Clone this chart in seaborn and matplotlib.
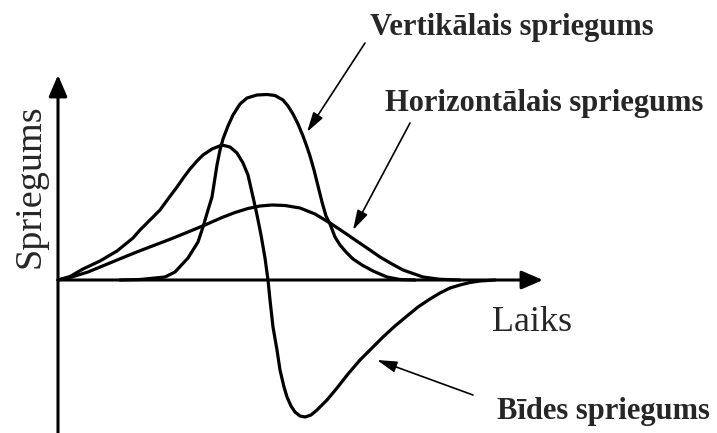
import matplotlib
matplotlib.use("Agg")
import matplotlib.pyplot as plt
import seaborn as sns

# Time axis (arbitrary units) and stress values for the three curves
vert_t = [6.2, 8.2, 9.7, 10.7, 11.7, 13.0, 14.0, 14.5, 15.0, 15.4, 15.9, 16.2, 16.5, 17.0,
          17.5, 18.2, 18.9, 19.9, 20.9, 21.7, 22.5, 23.0, 23.5, 24.0, 24.5, 24.9, 25.2,
          25.6, 26.0, 26.4, 26.8, 27.2, 27.7, 28.2, 28.8, 29.5, 30.4, 31.5, 32.9, 34.2, 35.7]
vert_s = [0.0, 0.05, 0.2, 0.3, 0.8, 2.2, 3.8, 5.3, 7.0, 8.3, 11.5, 13.0, 14.1, 15.4,
          16.5, 17.6, 18.2, 18.5, 18.55, 18.45, 18.0, 17.4, 16.6, 15.6, 14.4, 13.3, 12.4,
          11.0, 9.4, 7.8, 6.4, 5.6, 4.3, 3.5, 2.8, 2.1, 1.5, 0.9, 0.3, 0.05, 0.0]

horiz_t = [0.0, 1.2, 3.0, 4.7, 6.4, 8.0, 9.7, 11.4, 13.0, 14.7, 16.4, 17.7, 19.0, 20.2,
           21.4, 22.7, 24.2, 25.7, 27.2, 28.7, 29.5, 30.9, 32.2, 33.4, 34.5, 36.5, 38.2, 40.2]
horiz_s = [0.0, 0.25, 0.8, 1.5, 2.2, 2.85, 3.5, 4.15, 4.8, 5.5, 6.25, 6.75, 7.15, 7.4,
           7.5, 7.45, 7.2, 6.6, 5.7, 4.7, 4.15, 3.2, 2.3, 1.6, 1.0, 0.3, 0.07, 0.0]

shear_t = [0.0, 1.2, 2.5, 4.2, 5.9, 7.5, 8.2, 9.4, 10.2, 11.0, 11.9, 12.6, 13.2, 13.9,
           14.5, 15.4, 16.4, 17.2, 17.9, 18.5, 19.0, 19.5, 19.9, 20.3, 20.7, 21.0, 21.2,
           21.5, 21.9, 22.2, 22.6, 22.9, 23.3, 23.7, 24.2, 24.7, 25.3, 25.9, 26.9, 27.9,
           29.0, 30.2, 31.4, 32.5, 33.7, 34.9, 36.0, 37.2, 38.2, 39.2, 40.2, 41.2, 42.2, 43.7]
shear_s = [0.0, 0.35, 1.1, 1.9, 2.9, 4.2, 5.0, 6.2, 7.0, 8.1, 9.3, 10.3, 11.1, 11.9,
           12.5, 13.1, 13.5, 13.3, 12.7, 11.7, 10.5, 8.3, 6.5, 4.5, 2.2, 0.0, -2.0,
           -4.7, -7.0, -9.0, -10.7, -11.7, -12.6, -13.2, -13.6, -13.7, -13.5, -13.0, -12.0, -10.8,
           -9.4, -8.0, -6.8, -5.7, -4.6, -3.6, -2.7, -1.9, -1.3, -0.8, -0.5, -0.25, -0.1, 0.0]

label_vert = "Vertikālais spriegums"
label_horiz = "Horizontālais spriegums"
label_shear = "Bīdes spriegums"
x_label = "Laiks"
y_label = "Spriegums"

sns.set_style("white")
plt.rcParams["font.family"] = ["Liberation Serif", "DejaVu Serif"]

W, H = 717, 433
fig = plt.figure(figsize=(W / 100, H / 100), dpi=100)
ax = fig.add_axes([0, 0, 1, 1])
ax.set_xlim(-5.8, (W - 58) / 10)
ax.set_ylim(-(H - 280) / 10, 28.0)
ax.axis("off")

lw = 2.3
for t, s in [(vert_t, vert_s), (horiz_t, horiz_s), (shear_t, shear_s)]:
    sns.lineplot(x=t, y=s, sort=False, estimator=None, color="black", lw=lw, ax=ax,
                 solid_joinstyle="round", solid_capstyle="round")

# axes with arrowheads
axis_arrow = dict(arrowstyle="-|>,head_length=0.65,head_width=0.28", lw=2.2,
                  color="black", mutation_scale=20, shrinkA=0, shrinkB=0)
ax.annotate("", xy=(0, 20.5), xytext=(0, -15.5), arrowprops=axis_arrow)
ax.annotate("", xy=(48.5, 0), xytext=(0, 0), arrowprops=axis_arrow)

# curve labels with pointers
ptr = dict(arrowstyle="-|>,head_length=0.6,head_width=0.17", lw=1.2,
           color="black", mutation_scale=20, shrinkA=0, shrinkB=0)
ax.annotate("", xy=(24.9, 14.8), xytext=(30.7, 23.7), arrowprops=ptr)
ax.annotate("", xy=(29.5, 5.0), xytext=(35.2, 15.7), arrowprops=ptr)
ax.annotate("", xy=(31.9, -8.0), xytext=(41.5, -11.5), arrowprops=ptr)

def fx(x):
    return x / W

def fy(y):
    return 1 - y / H

fig.text(fx(370), fy(28), label_vert, fontsize=22, fontweight="bold", ha="left", va="center")
fig.text(fx(385), fy(103), label_horiz, fontsize=22, fontweight="bold", ha="left", va="center")
fig.text(fx(497), fy(412), label_shear, fontsize=22, fontweight="bold", ha="left", va="center")
fig.text(fx(492), fy(331), x_label, fontsize=26, ha="left", va="baseline")
fig.text(fx(30), fy(186), y_label, fontsize=27.5, rotation=90, ha="center", va="center")

fig.savefig("out.png", dpi=100, facecolor="white")
